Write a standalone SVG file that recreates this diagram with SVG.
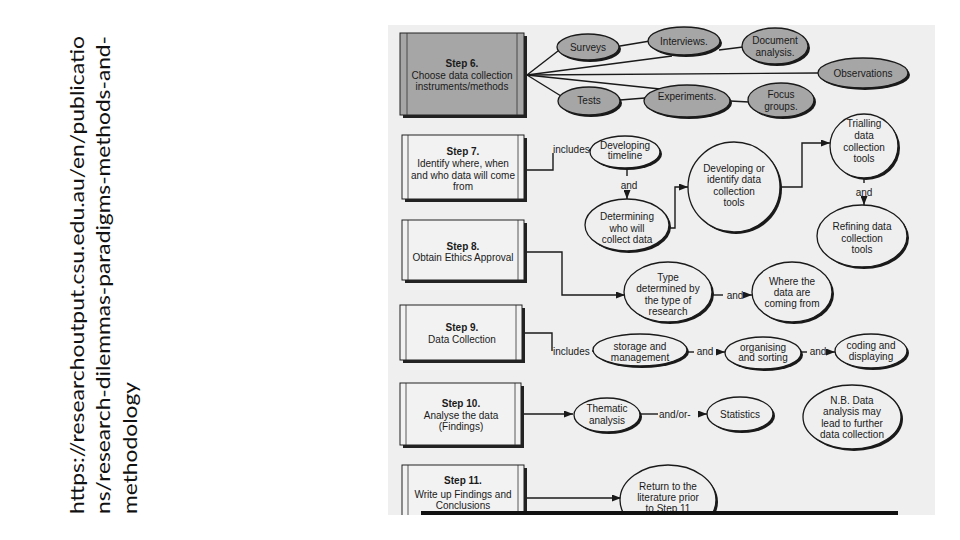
<svg xmlns="http://www.w3.org/2000/svg" width="960" height="540" viewBox="0 0 960 540">
<style>
.url{font-family:Lato,"Open Sans",sans-serif;font-size:20px;fill:#111}
.t{font-family:"Liberation Sans",Arial,sans-serif;font-size:10px;fill:#1a1a1a;text-anchor:middle}
.b{font-weight:bold}
.lbl{font-family:"Liberation Sans",Arial,sans-serif;font-size:10px;fill:#1a1a1a}
.box{fill:#f2f2f2;stroke:#222;stroke-width:1}
.box6{fill:#a6a6a6;stroke:#222;stroke-width:1}
.sh{fill:#222}
.inner{stroke:#333;stroke-width:0.8}
.eg{fill:#a6a6a6;stroke:#1a1a1a;stroke-width:1.3}
.ew{fill:#efefef;stroke:#1a1a1a;stroke-width:1.3}
.es{fill:#1a1a1a}
.c{fill:none;stroke:#1a1a1a;stroke-width:1.4}
.ca{fill:none;stroke:#1a1a1a;stroke-width:1.4;marker-end:url(#ah)}
</style>
<defs>
<marker id="ah" markerUnits="userSpaceOnUse" markerWidth="9" markerHeight="7" refX="9" refY="3.5" orient="auto">
<path d="M0,0 L9,3.5 L0,7 z" fill="#1a1a1a"/>
</marker>
<clipPath id="scan"><rect x="388" y="25" width="547" height="490"/></clipPath>
</defs>
<rect width="960" height="540" fill="#ffffff"/>
<g id="source-url">
<text class="url" transform="translate(84,514) rotate(-90)" textLength="478" lengthAdjust="spacingAndGlyphs">https://researchoutput.csu.edu.au/en/publicatio</text>
<text class="url" transform="translate(110,514) rotate(-90)" textLength="478" lengthAdjust="spacingAndGlyphs">ns/research-dilemmas-paradigms-methods-and-</text>
<text class="url" transform="translate(137,514) rotate(-90)" textLength="132" lengthAdjust="spacingAndGlyphs">methodology</text>
</g>
<g clip-path="url(#scan)">
<rect x="388" y="25" width="547" height="490" fill="#efefef"/>
<g id="connectors">
<path class="c" d="M527,75 L558,51"/>
<path class="c" d="M620,46 L650,41"/>
<path class="c" d="M527,75 L672,56"/>
<path class="c" d="M719,50 L743,47"/>
<path class="c" d="M527,75 L818,73"/>
<path class="c" d="M527,75 L660,89"/>
<path class="c" d="M527,75 L561,96"/>
<path class="c" d="M620,100 L645,98"/>
<path class="c" d="M730,101 L749,102"/>
<path class="c" d="M527,170 H553 V153"/>
<path class="c" d="M589,150 L591,150"/>
<path class="c" d="M627,168 V176"/>
<path class="ca" d="M627,191 V199"/>
<path class="ca" d="M669,228 H675 V187 H688"/>
<path class="ca" d="M780,187 H802 V143 H830"/>
<path class="c" d="M864,178 V183"/>
<path class="ca" d="M864,198 V205"/>
<path class="ca" d="M527,252 H562 V295 H625"/>
<path class="c" d="M712,295 H723"/>
<path class="ca" d="M746,295 H752"/>
<path class="c" d="M525,333 H552 V351"/>
<path class="c" d="M592,351 H594"/>
<path class="c" d="M687,352 H694"/>
<path class="ca" d="M716,352 H725"/>
<path class="c" d="M801,352 H807"/>
<path class="ca" d="M829,352 H835"/>
<path class="ca" d="M521,414 H573"/>
<path class="c" d="M640,414 H658"/>
<path class="ca" d="M698,414 H707"/>
<path class="ca" d="M525,498 H621"/>
<text class="lbl" x="553" y="153">includes</text>
<text class="t" x="629" y="189">and</text>
<text class="t" x="864" y="196">and</text>
<text class="t" x="735" y="298.5">and</text>
<text class="lbl" x="553" y="354.5">includes</text>
<text class="t" x="705" y="355">and</text>
<text class="t" x="818" y="355">and</text>
<text class="lbl" x="659" y="417.5">and/or-</text>
</g>
<g id="step6">
<rect class="sh" x="403" y="36" width="124" height="82"/>
<rect class="box6" x="400" y="33" width="124" height="82"/>
<line class="inner" x1="407" y1="33" x2="407" y2="115"/>
<line class="inner" x1="517" y1="33" x2="517" y2="115"/>
<text class="t b" x="462" y="66.5">Step 6.</text>
<text class="t" x="462" y="78.5">Choose data collection</text>
<text class="t" x="462" y="90">instruments/methods</text>
</g>
<g id="surveys"><ellipse class="es" cx="590" cy="49" rx="31" ry="13"/><ellipse class="eg" cx="588" cy="47" rx="31" ry="13"/><text class="t" x="588" y="50.5">Surveys</text></g>
<g id="interviews"><ellipse class="es" cx="686" cy="43" rx="36" ry="14"/><ellipse class="eg" cx="684" cy="41" rx="36" ry="14"/><text class="t" x="684" y="44.5">Interviews.</text></g>
<g id="document-analysis"><ellipse class="es" cx="777" cy="48" rx="33" ry="18"/><ellipse class="eg" cx="775" cy="46" rx="33" ry="18"/><text class="t" x="775" y="43.5">Document</text><text class="t" x="775" y="55.5">analysis.</text></g>
<g id="observations"><ellipse class="es" cx="865" cy="75" rx="45" ry="15"/><ellipse class="eg" cx="863" cy="73" rx="45" ry="15"/><text class="t" x="863" y="76.5">Observations</text></g>
<g id="tests"><ellipse class="es" cx="591" cy="103" rx="31" ry="14"/><ellipse class="eg" cx="589" cy="101" rx="31" ry="14"/><text class="t" x="589" y="104">Tests</text></g>
<g id="experiments"><ellipse class="es" cx="689" cy="103" rx="43" ry="16"/><ellipse class="eg" cx="687" cy="101" rx="43" ry="16"/><text class="t" x="687" y="99.5">Experiments.</text></g>
<g id="focus-groups"><ellipse class="es" cx="783" cy="102" rx="33" ry="17"/><ellipse class="eg" cx="781" cy="100" rx="33" ry="17"/><text class="t" x="781" y="98">Focus</text><text class="t" x="781" y="110">groups.</text></g>
<g id="step7">
<rect class="sh" x="405" y="138" width="122" height="64"/>
<rect class="box" x="402" y="135" width="122" height="64"/>
<line class="inner" x1="408" y1="135" x2="408" y2="199"/>
<line class="inner" x1="518" y1="135" x2="518" y2="199"/>
<text class="t b" x="463" y="155">Step 7.</text>
<text class="t" x="463" y="167">Identify where, when</text>
<text class="t" x="463" y="178.5">and who data will come</text>
<text class="t" x="463" y="190">from</text>
</g>
<g id="developing-timeline"><ellipse class="es" cx="627" cy="154" rx="35" ry="16"/><ellipse class="ew" cx="625" cy="152" rx="35" ry="16"/><text class="t" x="625" y="148.5">Developing</text><text class="t" x="625" y="159">timeline</text></g>
<g id="determining"><ellipse class="es" cx="629" cy="227" rx="42" ry="26"/><ellipse class="ew" cx="627" cy="225" rx="42" ry="26"/><text class="t" x="627" y="220">Determining</text><text class="t" x="627" y="231.5">who will</text><text class="t" x="627" y="242.5">collect data</text></g>
<g id="developing-tools"><ellipse class="es" cx="736" cy="189" rx="46" ry="45"/><ellipse class="ew" cx="734" cy="187" rx="46" ry="45"/><text class="t" x="734" y="171.5">Developing or</text><text class="t" x="734" y="183">identify data</text><text class="t" x="734" y="195">collection</text><text class="t" x="734" y="206">tools</text></g>
<g id="trialling"><ellipse class="es" cx="866" cy="148" rx="34" ry="32"/><ellipse class="ew" cx="864" cy="146" rx="34" ry="32"/><text class="t" x="864" y="126.5">Trialling</text><text class="t" x="864" y="139">data</text><text class="t" x="864" y="151">collection</text><text class="t" x="864" y="162">tools</text></g>
<g id="refining"><ellipse class="es" cx="864" cy="238" rx="45" ry="31"/><ellipse class="ew" cx="862" cy="236" rx="45" ry="31"/><text class="t" x="862" y="229.5">Refining data</text><text class="t" x="862" y="241.5">collection</text><text class="t" x="862" y="252.5">tools</text></g>
<g id="step8">
<rect class="sh" x="405" y="223" width="122" height="60"/>
<rect class="box" x="402" y="220" width="122" height="60"/>
<line class="inner" x1="408" y1="220" x2="408" y2="280"/>
<line class="inner" x1="518" y1="220" x2="518" y2="280"/>
<text class="t b" x="463" y="250">Step 8.</text>
<text class="t" x="463" y="261">Obtain Ethics Approval</text>
</g>
<g id="type-of-research"><ellipse class="es" cx="670" cy="294" rx="44" ry="30"/><ellipse class="ew" cx="668" cy="292" rx="44" ry="30"/><text class="t" x="668" y="280.5">Type</text><text class="t" x="668" y="292">determined by</text><text class="t" x="668" y="303.5">the type  of</text><text class="t" x="668" y="315">research</text></g>
<g id="where-data"><ellipse class="es" cx="794" cy="294" rx="40" ry="30"/><ellipse class="ew" cx="792" cy="292" rx="40" ry="30"/><text class="t" x="792" y="284.5">Where the</text><text class="t" x="792" y="295.5">data are</text><text class="t" x="792" y="306.5">coming from</text></g>
<g id="step9">
<rect class="sh" x="403" y="308" width="122" height="55"/>
<rect class="box" x="400" y="305" width="122" height="55"/>
<line class="inner" x1="406" y1="305" x2="406" y2="360"/>
<line class="inner" x1="516" y1="305" x2="516" y2="360"/>
<text class="t b" x="462" y="331">Step 9.</text>
<text class="t" x="462" y="343">Data Collection</text>
</g>
<g id="storage"><ellipse class="es" cx="642" cy="352" rx="47" ry="16"/><ellipse class="ew" cx="640" cy="350" rx="47" ry="16"/><text class="t" x="640" y="350">storage and</text><text class="t" x="640" y="361">management</text></g>
<g id="organising"><ellipse class="es" cx="765" cy="355" rx="38" ry="16"/><ellipse class="ew" cx="763" cy="353" rx="38" ry="16"/><text class="t" x="763" y="350.5">organising</text><text class="t" x="763" y="361">and sorting</text></g>
<g id="coding"><ellipse class="es" cx="873" cy="353" rx="36" ry="17"/><ellipse class="ew" cx="871" cy="351" rx="36" ry="17"/><text class="t" x="871" y="348.5">coding and</text><text class="t" x="871" y="360">displaying</text></g>
<g id="step10">
<rect class="sh" x="403" y="386" width="121" height="62"/>
<rect class="box" x="400" y="383" width="121" height="62"/>
<line class="inner" x1="406" y1="383" x2="406" y2="445"/>
<line class="inner" x1="515" y1="383" x2="515" y2="445"/>
<text class="t b" x="461" y="407">Step 10.</text>
<text class="t" x="461" y="418.5">Analyse the data</text>
<text class="t" x="461" y="430">(Findings)</text>
</g>
<g id="thematic"><ellipse class="es" cx="609" cy="417" rx="33" ry="17"/><ellipse class="ew" cx="607" cy="415" rx="33" ry="17"/><text class="t" x="607" y="411.5">Thematic</text><text class="t" x="607" y="424">analysis</text></g>
<g id="statistics"><ellipse class="es" cx="742" cy="416" rx="33" ry="17"/><ellipse class="ew" cx="740" cy="414" rx="33" ry="17"/><text class="t" x="740" y="417.5">Statistics</text></g>
<g id="nb-note"><ellipse class="es" cx="854" cy="419" rx="49" ry="32"/><ellipse class="ew" cx="852" cy="417" rx="49" ry="32"/><text class="t" x="852" y="403.5">N.B. Data</text><text class="t" x="852" y="415">analysis may</text><text class="t" x="852" y="426.5">lead to further</text><text class="t" x="852" y="438">data collection</text></g>
<g id="step11">
<rect class="sh" x="405" y="468" width="122" height="60"/>
<rect class="box" x="402" y="465" width="122" height="60"/>
<line class="inner" x1="408" y1="465" x2="408" y2="525"/>
<line class="inner" x1="518" y1="465" x2="518" y2="525"/>
<text class="t b" x="463" y="483.5">Step 11.</text>
<text class="t" x="463" y="497.5">Write up Findings and</text>
<text class="t" x="463" y="508.5">Conclusions</text>
</g>
<g id="return-literature"><ellipse class="es" cx="670" cy="502" rx="48" ry="35"/><ellipse class="ew" cx="668" cy="500" rx="48" ry="35"/><text class="t" x="668" y="489.5">Return to the</text><text class="t" x="668" y="500.5">literature prior</text><text class="t" x="668" y="511.5">to Step 11</text></g>
<rect x="421" y="511" width="477" height="5" fill="#111"/>
</g>
</svg>
